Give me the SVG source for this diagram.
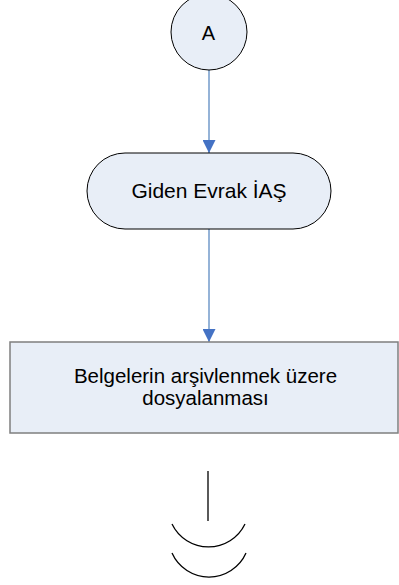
<svg xmlns="http://www.w3.org/2000/svg" width="399" height="585" viewBox="0 0 399 585">
<style>
.shape{fill:#E8EEF7;stroke:#000;stroke-width:1}
.box{fill:#E8EEF7;stroke:#7F7F7F;stroke-width:1.5}
.txt{font-family:"Liberation Sans",Arial,sans-serif;fill:#000;text-anchor:middle}
.conn{stroke:#95B3D7;stroke-width:2;fill:none}
.sym{stroke:#000;stroke-width:1.3;fill:none}
</style>
<defs>
<marker id="arr" viewBox="0 0 12 12" refX="12" refY="6" markerWidth="13" markerHeight="13" markerUnits="userSpaceOnUse" orient="auto">
<path d="M0,0 L12,6 L0,12 Z" fill="#4472C4"/>
</marker>
</defs>
<g id="connectors">
<line class="conn" x1="209" y1="70" x2="209" y2="153" marker-end="url(#arr)"/>
<line class="conn" x1="209" y1="229" x2="209" y2="342" marker-end="url(#arr)"/>
</g>
<g id="nodeA">
<circle class="shape" cx="209" cy="32" r="38"/>
<text class="txt" x="208.5" y="39.5" font-size="20">A</text>
</g>
<g id="nodeGiden">
<rect class="shape" x="87" y="153" width="244" height="76" rx="38" ry="38"/>
<text class="txt" x="209" y="198" font-size="21">Giden Evrak İAŞ</text>
</g>
<g id="nodeBelge">
<rect class="box" x="10" y="342" width="388" height="91"/>
<text class="txt" x="205.5" y="383" font-size="20.5">Belgelerin arşivlenmek üzere</text>
<text class="txt" x="205.5" y="405" font-size="20.5">dosyalanması</text>
</g>
<g id="nodeEnd">
<line class="sym" x1="208" y1="471" x2="208" y2="521"/>
<path class="sym" d="M172,524 A40.5,40.5 0 0 0 245,524"/>
<path class="sym" d="M172,553 A40.5,40.5 0 0 0 246,553"/>
</g>
</svg>
